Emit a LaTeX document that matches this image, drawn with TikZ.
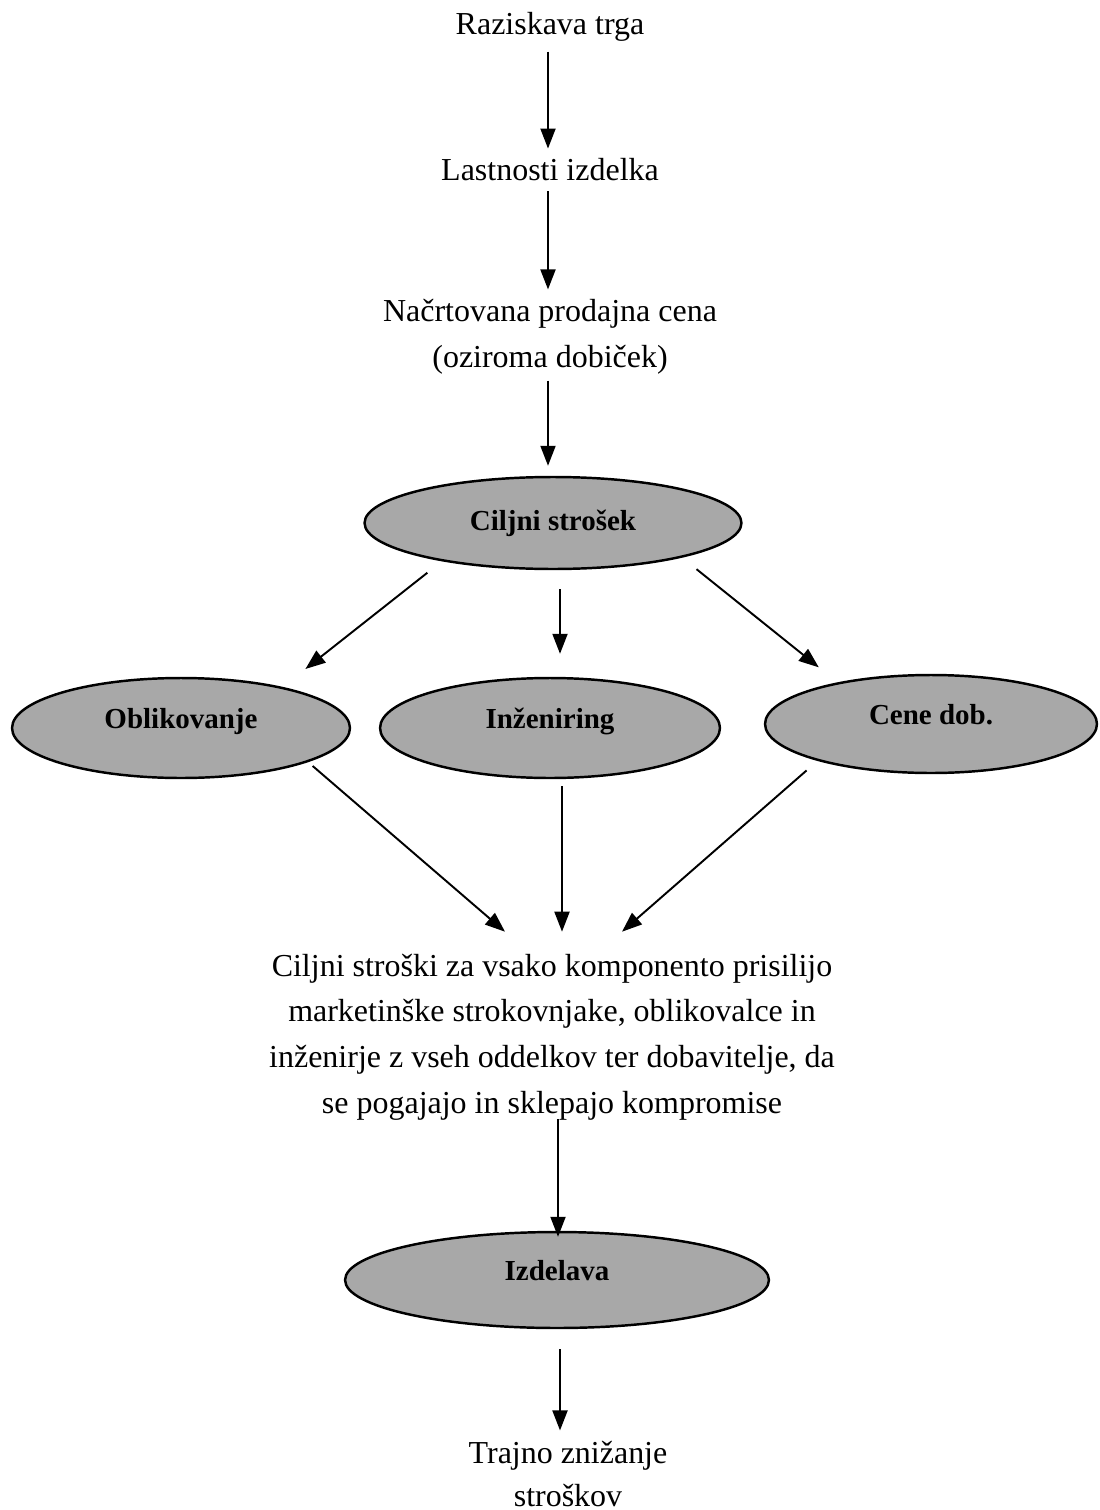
\documentclass[tikz,border=0pt]{standalone}
\usepackage{fontspec}
\setmainfont{Liberation Serif}
\usetikzlibrary{shapes.geometric, arrows.meta, positioning, calc}
\tikzstyle{stage} = [align=center, font=\fontsize{18.2}{26}\selectfont]
\tikzstyle{cost} = [ellipse, draw=black, line width=1.4pt, fill=black!34, inner sep=0pt, font=\fontsize{16.5}{20}\selectfont\bfseries]
\tikzstyle{lifted} = [text height=12pt, text depth=12pt]
\tikzstyle{arrow} = [line width=1.1pt, -{Triangle[length=0.4cm, width=0.3cm]}]

\begin{document}
\begin{tikzpicture}[x=0.02cm, y=-0.02cm]
    \useasboundingbox (0,0) rectangle (1099,1510);
    \node (market) [stage] at (550,27) {Raziskava trga};
    \node (features) [stage] at (550,170) {Lastnosti izdelka};
    \node (price) [stage] at (550,337) {Načrtovana prodajna cena\\(oziroma dobiček)};
    \node (target) [cost, minimum width=7.54cm, minimum height=1.84cm] at (553,523) {Ciljni strošek};
    \node (design) [cost, lifted, minimum width=6.76cm, minimum height=2cm] at (181,728) {Oblikovanje};
    \node (engineering) [cost, lifted, minimum width=6.8cm, minimum height=2cm] at (550,728) {Inženiring};
    \node (supply) [cost, lifted, minimum width=6.64cm, minimum height=1.96cm] at (931,724) {Cene dob.};
    \node (summary) [stage] at (552,1037) {Ciljni stroški za vsako komponento prisilijo\\marketinške strokovnjake, oblikovalce in\\inženirje z vseh oddelkov ter dobavitelje, da\\se pogajajo in sklepajo kompromise};
    \node (production) [cost, lifted, minimum width=8.48cm, minimum height=1.92cm] at (557,1280) {Izdelava};
    \node (result) [stage, font=\fontsize{18.2}{24}\selectfont] at (568,1474) {Trajno znižanje\\stroškov};

    \draw [arrow, shorten <=0.08cm, shorten >=0.08cm] ($(market.south)+(-2,0)$) -- ($(features.north)+(-2,0)$);
    \draw [arrow, shorten <=0.08cm, shorten >=0.08cm] ($(features.south)+(-2,0)$) -- ($(price.north)+(-2,0)$);
    \draw [arrow, shorten >=0.2cm] ($(price.south)+(-2,0)$) -- ($(target.north)+(-5,0)$);
    \draw [arrow, shorten <=0.37cm, shorten >=0.58cm] (target.199) -- (design.22);
    \draw [arrow, shorten <=0.38cm, shorten >=0.46cm] ($(target.south)+(7,0)$) -- ($(engineering.north)+(10,0)$);
    \draw [arrow, shorten <=0.37cm, shorten >=0.48cm] (target.345.6) -- (supply.156.7);
    \draw [arrow, shorten <=0.12cm] (design.345.3) -- ($(summary.north)+(-47,-16)$);
    \draw [arrow] ($(engineering.south)+(12,7)$) -- ($(summary.north)+(10,-16)$);
    \draw [arrow, shorten <=0.29cm] (supply.198.5) -- ($(summary.north)+(70,-16)$);
    \draw [arrow] ($(summary.south)+(6,-7)$) -- ($(production.north)+(1,6)$);
    \draw [arrow, shorten >=0.1cm] ($(production.south)+(3,20)$) -- ($(result.north)+(-8,0)$);
\end{tikzpicture}
\end{document}
